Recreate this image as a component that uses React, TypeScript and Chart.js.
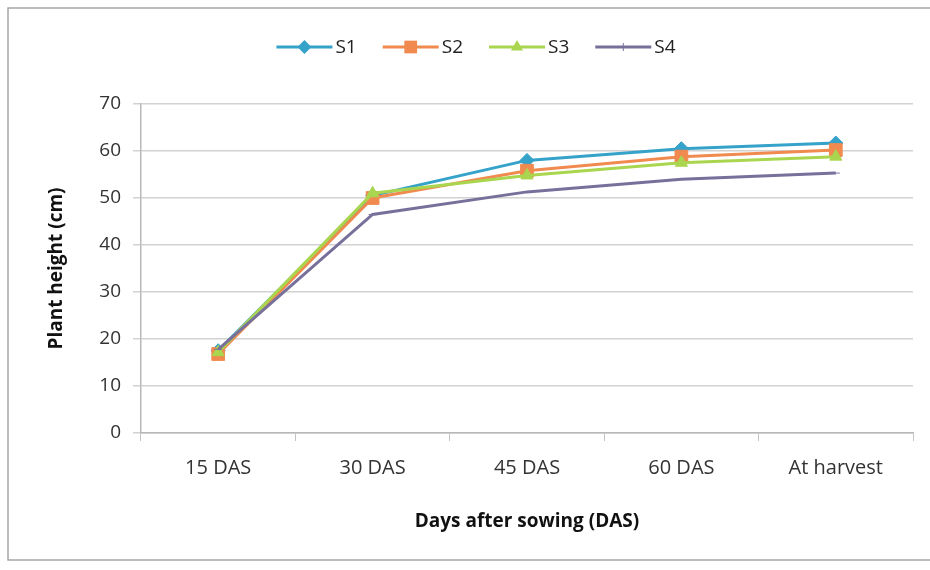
import React, { useEffect, useRef } from "react";
import { Chart, registerables } from "chart.js";

Chart.register(...registerables);

const categories = ["15 DAS", "30 DAS", "45 DAS", "60 DAS", "At harvest"];
const s1 = [17.5, 50.5, 58.0, 60.5, 61.7];
const s2 = [16.8, 50.0, 55.8, 58.8, 60.2];
const s3 = [17.2, 51.0, 54.8, 57.5, 58.8];
const s4 = [17.8, 46.5, 51.3, 54.0, 55.3];
const seriesNames = ["S1", "S2", "S3", "S4"];
const yTicks = [0, 10, 20, 30, 40, 50, 60, 70];

const FONT = "'Open Sans', 'Noto Sans', sans-serif";

const frameAndLegend = {
  id: "frameAndLegend",
  beforeDraw(chart: any) {
    const ctx = chart.ctx;
    ctx.save();
    ctx.fillStyle = "#ffffff";
    ctx.fillRect(0, 0, chart.width, chart.height);
    ctx.strokeStyle = "#a6a6a6";
    ctx.lineWidth = 1.5;
    ctx.strokeRect(8, 8, 940, 552);
    ctx.restore();
  },
  afterDraw(chart: any) {
    const ctx = chart.ctx;
    ctx.save();
    ctx.font = `19px ${FONT}`;
    ctx.textBaseline = "middle";
    const lineLen = 56;
    const gap = 3;
    const spacing = 26;
    const items = chart.data.datasets.map((ds: any) => ({
      ds,
      w: lineLen + gap + ctx.measureText(ds.label).width,
    }));
    const total = items.reduce((a: number, it: any) => a + it.w, 0) + spacing * (items.length - 1);
    let x = 476 - total / 2;
    const y = 47;
    for (const it of items) {
      const ds = it.ds;
      ctx.strokeStyle = ds.borderColor;
      ctx.lineWidth = 3;
      ctx.beginPath();
      ctx.moveTo(x, y);
      ctx.lineTo(x + lineLen, y);
      ctx.stroke();
      const cx = x + lineLen / 2;
      ctx.fillStyle = ds.pointBackgroundColor;
      ctx.strokeStyle = ds.pointBorderColor;
      ctx.lineWidth = 1;
      const r = ds.pointRadius;
      ctx.beginPath();
      if (ds.pointStyle === "rect") {
        const s = r * Math.SQRT1_2;
        ctx.rect(cx - s, y - s, 2 * s, 2 * s);
        ctx.fill();
      } else if (ds.pointStyle === "rectRot") {
        ctx.moveTo(cx, y - r);
        ctx.lineTo(cx + r, y);
        ctx.lineTo(cx, y + r);
        ctx.lineTo(cx - r, y);
        ctx.closePath();
        ctx.fill();
      } else if (ds.pointStyle === "triangle") {
        ctx.moveTo(cx, y - r);
        ctx.lineTo(cx + r * 0.87, y + r * 0.5);
        ctx.lineTo(cx - r * 0.87, y + r * 0.5);
        ctx.closePath();
        ctx.fill();
      } else {
        ctx.strokeStyle = ds.borderColor;
        ctx.moveTo(cx, y - r);
        ctx.lineTo(cx, y + r);
        ctx.stroke();
      }
      ctx.fillStyle = "#222222";
      ctx.fillText(ds.label, x + lineLen + gap, y + 1);
      x += it.w + spacing;
    }
    ctx.restore();
  },
};

export default function App() {
  const ref = useRef<HTMLCanvasElement | null>(null);
  useEffect(() => {
    document.body.style.margin = "0";
    const canvas = ref.current!;
    const colors = ["#35a2c9", "#f08a4f", "#a9d64e", "#77709b"];
    const styles = ["rectRot", "rect", "triangle", "line"];
    const radii = [7, 9, 7, 4];
    const values = [s1, s2, s3, s4];
    const chart = new Chart(canvas, {
      type: "line",
      data: {
        labels: categories,
        datasets: values.map((v, i) => ({
          label: seriesNames[i],
          data: v,
          borderColor: colors[i],
          backgroundColor: colors[i],
          pointBackgroundColor: colors[i],
          pointBorderColor: colors[i],
          pointStyle: styles[i] as any,
          pointRadius: radii[i],
          pointBorderWidth: 1,
          borderWidth: 3,
          tension: 0,
          order: 4 - i,
        })),
      },
      options: {
        animation: false,
        responsive: false,
        devicePixelRatio: 1,
        layout: { padding: { top: 104, left: 30, right: 17, bottom: 30 } },
        plugins: {
          legend: { display: false },
          tooltip: { enabled: false },
          title: { display: false },
        },
        scales: {
          x: {
            type: "category",
            offset: true,
            grid: {
              offset: true,
              drawOnChartArea: false,
              drawTicks: true,
              tickLength: 8,
              color: "#c4c4c4",
            },
            border: { color: "#b8b8b8", width: 1.5 },
            ticks: {
              color: "#333333",
              font: { family: FONT, size: 20 },
              padding: 15,
              maxRotation: 0,
            },
            title: {
              display: true,
              text: "Days after sowing (DAS)",
              color: "#111111",
              font: { family: FONT, size: 19, weight: "bold" },
              padding: { top: 0, bottom: 7 },
            },
            afterFit: (scale: any) => {
              scale.height = 107;
            },
          },
          y: {
            min: 0,
            max: 70,
            afterBuildTicks: (scale: any) => {
              scale.ticks = yTicks.map((v) => ({ value: v }));
            },
            grid: {
              color: "#d2d2d2",
              lineWidth: 1.5,
              tickLength: 8,
            },
            border: { color: "#b8b8b8", width: 1.5 },
            ticks: {
              color: "#333333",
              font: { family: FONT, size: 19 },
              padding: 12,
            },
            title: {
              display: true,
              text: "Plant height (cm)",
              color: "#111111",
              font: { family: FONT, size: 19, weight: "bold" },
              padding: { top: 15, bottom: 0 },
            },
            afterFit: (scale: any) => {
              scale.width = 111;
            },
          },
        },
      },
      plugins: [frameAndLegend],
    });
    return () => chart.destroy();
  }, []);
  return <canvas ref={ref} width={930} height={570} style={{ display: "block" }} />;
}
